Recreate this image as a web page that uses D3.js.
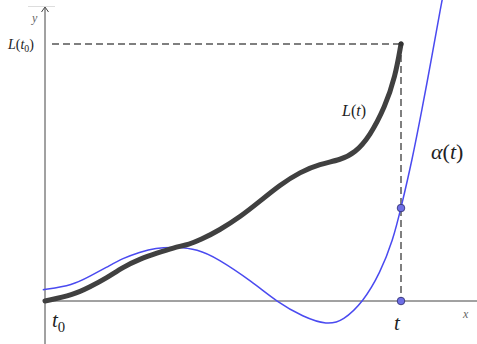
<!DOCTYPE html>
<html>
<head>
<meta charset="utf-8">
<script src="https://cdn.jsdelivr.net/npm/d3@7"></script>
<style>
  html, body { margin: 0; padding: 0; background: #fff; }
  svg { display: block; }
</style>
</head>
<body>
<svg id="chart" width="477" height="344"></svg>
<script>
// arc length curve L(t)
const lX = [0, 0.63, 1.01, 1.39, 1.75, 2.13, 2.52, 2.88, 3.26, 3.48, 3.93, 4.38, 4.83, 5.28, 5.73, 6.18, 6.63, 6.97, 7.30, 7.64, 7.87, 8.0];
const lY = [0, 0.14, 0.33, 0.54, 0.79, 0.98, 1.12, 1.24, 1.33, 1.42, 1.66, 1.96, 2.33, 2.71, 3.01, 3.20, 3.29, 3.46, 3.85, 4.53, 5.23, 6.0];

// alpha(t) curve
const aX = [-0.05, 0.63, 1.01, 1.39, 1.75, 2.13, 2.47, 2.96, 3.42, 3.87, 4.67, 5.21, 5.80, 6.34, 6.70, 7.15, 7.53, 7.82, 8.0, 8.25, 8.47, 8.70, 8.90, 8.97];
const aY = [0.26, 0.37, 0.58, 0.79, 1.00, 1.14, 1.24, 1.26, 1.21, 1.00, 0.44, -0.02, -0.37, -0.56, -0.46, -0.02, 0.65, 1.42, 2.17, 3.29, 4.46, 5.74, 6.91, 7.26];

const t0 = 0, t = 8;
const Lt = 6, alphaT = 2.17;

const svg = d3.select('#chart');
const x = d3.scaleLinear().domain([0, 8]).range([45, 401]);
const y = d3.scaleLinear().domain([0, 6]).range([301, 44]);
const serif = '"Liberation Serif", "DejaVu Serif", serif';

// faint leftover line near the top of the y axis
svg.append('line').attr('x1', 28).attr('x2', 55).attr('y1', 6.5).attr('y2', 6.5)
  .attr('stroke', '#ddd').attr('stroke-width', 1);

// axes
const axisColor = '#444';
svg.append('line').attr('x1', x(0)).attr('x2', 477).attr('y1', y(0)).attr('y2', y(0))
  .attr('stroke', axisColor).attr('stroke-width', 1);
svg.append('line').attr('x1', x(0)).attr('x2', x(0)).attr('y1', 344).attr('y2', 8)
  .attr('stroke', axisColor).attr('stroke-width', 1);
svg.append('path')
  .attr('d', `M${x(0) - 3.5},${12} L${x(0)},${7} L${x(0) + 3.5},${12}`)
  .attr('fill', 'none').attr('stroke', axisColor).attr('stroke-width', 1);

// dashed guides
svg.append('line').attr('x1', 52).attr('x2', x(t)).attr('y1', y(Lt)).attr('y2', y(Lt))
  .attr('stroke', '#555').attr('stroke-width', 1.5).attr('stroke-dasharray', '7,4');
svg.append('line').attr('x1', x(t)).attr('x2', x(t)).attr('y1', y(Lt)).attr('y2', y(0))
  .attr('stroke', '#555').attr('stroke-width', 1.5).attr('stroke-dasharray', '7,4');

const line = d3.line().curve(d3.curveBasis);

svg.append('path')
  .attr('d', line(aX.map((v, i) => [x(v), y(aY[i])])))
  .attr('fill', 'none').attr('stroke', '#4a4af0').attr('stroke-width', 1.5);

svg.append('path')
  .attr('d', line(lX.map((v, i) => [x(v), y(lY[i])])))
  .attr('fill', 'none').attr('stroke', '#404040').attr('stroke-width', 5)
  .attr('stroke-linecap', 'round');

// points
svg.append('circle').attr('cx', x(t)).attr('cy', y(Lt)).attr('r', 2.5).attr('fill', '#333');
[[t, alphaT], [t, 0]].forEach(p => {
  svg.append('circle').attr('cx', x(p[0])).attr('cy', y(p[1])).attr('r', 3.8)
    .attr('fill', '#6f6fe6').attr('stroke', '#2a2a6a').attr('stroke-width', 0.8);
});

// labels
const lab = (px, py, size, parts, fill) => {
  const txt = svg.append('text').attr('x', px).attr('y', py)
    .attr('font-family', serif).attr('font-style', 'italic')
    .attr('font-size', size).attr('fill', fill || '#222');
  parts.forEach(pt => {
    const s = txt.append('tspan').text(pt.t);
    if (pt.sub) s.attr('font-size', size * 0.7).attr('dy', size * 0.22).attr('font-style', 'normal');
    if (pt.up) s.attr('dy', -size * 0.22);
    if (pt.upright) s.attr('font-style', 'normal');
  });
};
lab(8, 49, 14, [{ t: 'L' }, { t: '(', upright: true }, { t: 't' }, { t: '0', sub: true }, { t: ')', up: true, upright: true }]);
lab(32, 22, 12, [{ t: 'y' }], '#666');
lab(463, 318, 12, [{ t: 'x' }], '#666');
lab(342, 116, 16, [{ t: 'L' }, { t: '(', upright: true }, { t: 't' }, { t: ')', upright: true }]);
lab(431, 159, 22, [{ t: 'α' }, { t: '(', upright: true }, { t: 't' }, { t: ')', upright: true }]);
lab(52, 327, 21, [{ t: 't' }, { t: '0', sub: true }]);
lab(394, 330, 21, [{ t: 't' }]);
</script>
</body>
</html>
